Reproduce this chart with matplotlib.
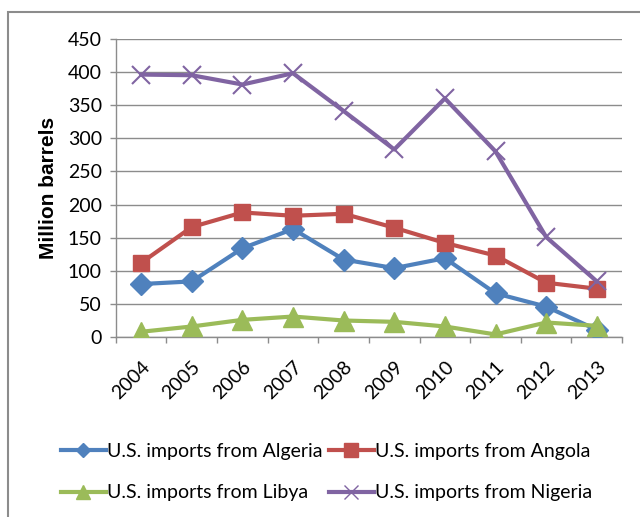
import numpy as np
import matplotlib
matplotlib.use("Agg")
import matplotlib.pyplot as plt
import matplotlib.transforms as mtransforms
from matplotlib.patches import Rectangle
from matplotlib.lines import Line2D

years = ["2004", "2005", "2006", "2007", "2008", "2009", "2010", "2011", "2012", "2013"]
algeria = [80, 84, 134, 163, 117, 104, 119, 66, 46, 11]
angola = [112, 166, 188, 183, 186, 165, 142, 123, 82, 73]
libya = [8, 16, 26, 31, 25, 23, 16, 4, 22, 17]
nigeria = [396, 395, 381, 398, 341, 283, 360, 280, 151, 84]

names = ["U.S. imports from Algeria", "U.S. imports from Angola",
         "U.S. imports from Libya", "U.S. imports from Nigeria"]

plt.rcParams['font.family'] = ['Lato', 'DejaVu Sans']

fig = plt.figure(figsize=(6.4, 5.17), dpi=100)
ax = fig.add_axes([0.181, 0.348, 0.791, 0.577])

x = np.arange(len(years))
lw = 3
ax.plot(x, algeria, color='#4F81BD', lw=lw, marker='D', ms=11, zorder=3)
ax.plot(x, angola, color='#C0504D', lw=lw, marker='s', ms=12, zorder=3)
ax.plot(x, libya, color='#9BBB59', lw=lw, marker='^', ms=14, zorder=3)
ax.plot(x, nigeria, color='#8064A2', lw=lw, marker='x', ms=13, mew=1.5, zorder=3)

ax.set_xlim(-0.5, 9.5)
ax.set_ylim(0, 450)
ax.set_yticks(range(0, 451, 50))
ax.grid(axis='y', color='#8c8c8c', lw=1)
ax.set_axisbelow(True)

for s in ['top', 'right']:
    ax.spines[s].set_visible(False)
for s in ['left', 'bottom']:
    ax.spines[s].set_color('#8c8c8c')
    ax.spines[s].set_linewidth(1)

ax.set_xticks(x)
ax.set_xticklabels(years, rotation=45, ha='right', va='top', rotation_mode='anchor', fontsize=14)
shift = mtransforms.ScaledTranslation(5 / 100, 0, fig.dpi_scale_trans)
for lab in ax.get_xticklabels():
    lab.set_transform(lab.get_transform() + shift)
ax.set_xticks(np.arange(-0.5, 10, 1), minor=True)
ax.tick_params(axis='x', which='major', length=0, pad=15)
ax.tick_params(axis='x', which='minor', length=4.5, color='#8c8c8c', width=1)
ax.tick_params(axis='y', length=4.5, color='#8c8c8c', width=1, labelsize=14, pad=5.5)

ax.set_ylabel("Million barrels", family='Liberation Sans', fontweight='bold', fontsize=15)
ax.yaxis.set_label_coords(-0.114, 0.5)

handles = [
    Line2D([], [], color='#4F81BD', lw=lw, marker='D', ms=7),
    Line2D([], [], color='#C0504D', lw=lw, marker='s', ms=10),
    Line2D([], [], color='#9BBB59', lw=lw, marker='^', ms=10),
    Line2D([], [], color='#8064A2', lw=lw, marker='x', ms=10, mew=1),
]
order = [0, 2, 1, 3]
fig.legend([handles[i] for i in order], [names[i] for i in order], ncol=2,
           loc='upper left', bbox_to_anchor=(0.095, 0.143), frameon=False,
           fontsize=14, handlelength=2.3, handletextpad=0.1, columnspacing=0.3,
           labelspacing=1.25, borderpad=0, borderaxespad=0)

fig.patches.append(Rectangle((8 / 640, -0.1), 1.2, 1 - 12 / 517 + 0.1,
                             transform=fig.transFigure, fill=False,
                             edgecolor='#8c8c8c', lw=1.5))

fig.savefig("out.png", dpi=100)
